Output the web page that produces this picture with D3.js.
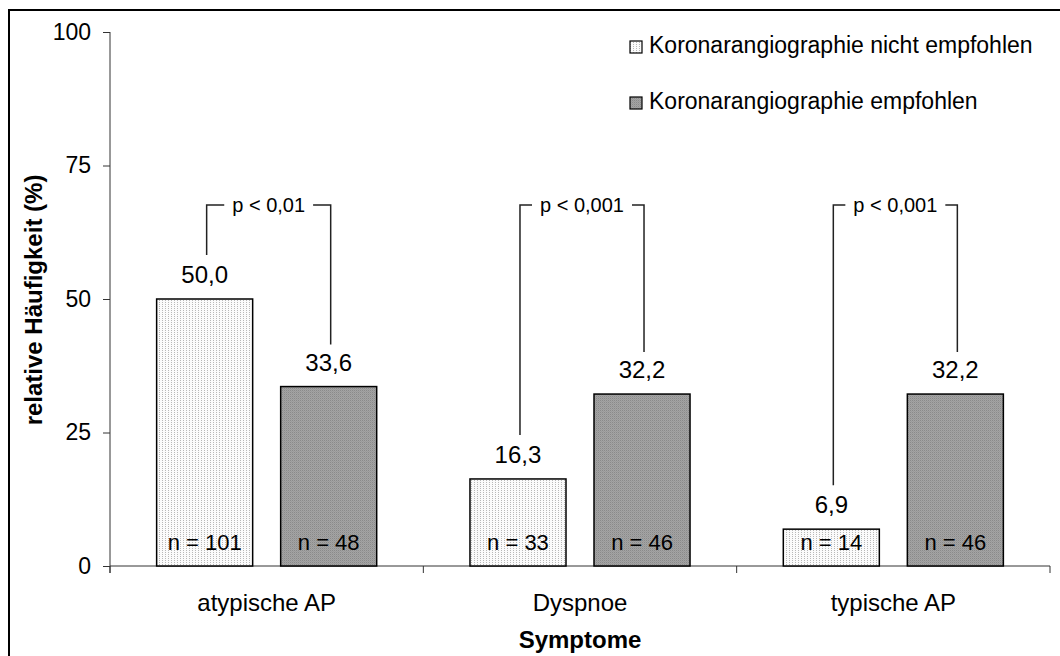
<!DOCTYPE html>
<html><head><meta charset="utf-8">
<script src="https://cdn.jsdelivr.net/npm/d3@7"></script>
<style>
html,body{margin:0;padding:0;background:#fff;overflow:hidden;}
text{font-family:"Liberation Sans",Arial,sans-serif;fill:#000;}
</style></head>
<body>
<svg id="chart" width="1060" height="656"></svg>
<script>
const categories = ["atypische AP", "Dyspnoe", "typische AP"];
const seriesNames = ["Koronarangiographie nicht empfohlen", "Koronarangiographie empfohlen"];
const valuesNicht = [50.0, 16.3, 6.9];
const valuesEmpfohlen = [33.6, 32.2, 32.2];
const nNicht = [101, 33, 14];
const nEmpfohlen = [48, 46, 46];
const pLabels = ["p < 0,01", "p < 0,001", "p < 0,001"];
const yTicks = [0, 25, 50, 75, 100];

const svg = d3.select("#chart");
const W = 1060, H = 656;
const L = 110, R = 1050, T = 32, B = 566;

// patterns
const defs = svg.append("defs");
const p1 = defs.append("pattern").attr("id","patLight").attr("patternUnits","userSpaceOnUse").attr("width",3).attr("height",2);
p1.append("rect").attr("width",3).attr("height",2).attr("fill","#fbfbfb");
p1.append("rect").attr("x",0).attr("y",0).attr("width",1).attr("height",1).attr("fill","#b8b8b8");
const p2 = defs.append("pattern").attr("id","patDark").attr("patternUnits","userSpaceOnUse").attr("width",2).attr("height",2);
p2.append("rect").attr("width",2).attr("height",2).attr("fill","#a4a4a4");
p2.append("rect").attr("x",0).attr("y",0).attr("width",1).attr("height",1).attr("fill","#8a8a8a");
p2.append("rect").attr("x",1).attr("y",1).attr("width",1).attr("height",1).attr("fill","#9a9a9a");

// outer frame
svg.append("rect").attr("x",9).attr("y",10).attr("width",1200).attr("height",800)
  .attr("fill","none").attr("stroke","#000").attr("stroke-width",2);

const x0 = d3.scaleBand().domain(categories).range([L, R]).paddingInner(0).paddingOuter(0);
const x1 = d3.scaleBand().domain([0,1]).range([0, x0.bandwidth()]).paddingInner(28/124).paddingOuter(0.376);
const y = d3.scaleLinear().domain([0,100]).range([B, T]);

// y axis
const yAxis = svg.append("g").attr("transform",`translate(${L},0)`)
  .call(d3.axisLeft(y).tickValues(yTicks).tickSize(7).tickPadding(12).tickFormat(d3.format("d")));
yAxis.select(".domain").attr("stroke","#333").attr("d",`M0,${T}V${B+7}`);
yAxis.selectAll(".tick line").attr("stroke","#333");
yAxis.selectAll(".tick text").attr("font-size",23).attr("font-family","Liberation Sans, Arial, sans-serif").attr("fill","#000");

// x axis
const boundaries = categories.map(c => x0(c)).concat([R]);
const xg = svg.append("g");
xg.append("line").attr("x1",L).attr("x2",R).attr("y1",B).attr("y2",B).attr("stroke","#333");
xg.selectAll("line.tk").data(boundaries).enter().append("line").attr("class","tk")
  .attr("x1",d=>d).attr("x2",d=>d).attr("y1",B).attr("y2",B+7).attr("stroke","#333");
xg.selectAll("text.cat").data(categories).enter().append("text").attr("class","cat")
  .attr("x",d=>x0(d)+x0.bandwidth()/2).attr("y",611).attr("text-anchor","middle")
  .attr("font-size",24).text(d=>d);

// titles
svg.append("text").attr("x",W/2 - 0).attr("y",648).attr("text-anchor","middle")
  .attr("font-size",24).attr("font-weight","bold").attr("x", x0("Dyspnoe")+x0.bandwidth()/2).text("Symptome");
svg.append("text").attr("transform","translate(42,300) rotate(-90)").attr("text-anchor","middle")
  .attr("font-size",24).attr("font-weight","bold").text("relative Häufigkeit (%)");

// bars
const series = [
  {vals: valuesNicht, ns: nNicht, fill: "url(#patLight)"},
  {vals: valuesEmpfohlen, ns: nEmpfohlen, fill: "url(#patDark)"}
];
const barsG = svg.append("g");
series.forEach((s, si) => {
  categories.forEach((c, ci) => {
    const bx = x0(c) + x1(si);
    const v = s.vals[ci];
    barsG.append("rect").attr("x", bx).attr("y", y(v)).attr("width", x1.bandwidth())
      .attr("height", y(0) - y(v)).attr("fill", s.fill).attr("stroke","#000").attr("stroke-width",1.5);
    barsG.append("text").attr("x", bx + x1.bandwidth()/2).attr("y", y(v) - 16)
      .attr("text-anchor","middle").attr("font-size",24).text(d3.format(".1f")(v).replace(".", ","));
    barsG.append("text").attr("x", bx + x1.bandwidth()/2).attr("y", y(0) - 16)
      .attr("text-anchor","middle").attr("font-size",22).text("n = " + s.ns[ci]);
  });
});

// significance brackets
const bracketTop = 205;
const brG = svg.append("g");
categories.forEach((c, ci) => {
  const xa = x0(c) + x1(0) + x1.bandwidth()/2 + 2;
  const xb = x0(c) + x1(1) + x1.bandwidth()/2 + 2;
  const ya = y(valuesNicht[ci]) - 44;
  const yb = y(valuesEmpfohlen[ci]) - 42;
  const mid = (xa + xb)/2;
  const t = brG.append("text").attr("x", mid).attr("y", bracketTop + 7).attr("text-anchor","middle")
    .attr("font-size",20).text(pLabels[ci]);
  const tw = t.node().getComputedTextLength();
  const gap = 8;
  brG.append("path").attr("fill","none").attr("stroke","#222").attr("stroke-width",1.5)
    .attr("d", `M${xa},${ya}V${bracketTop}H${mid - tw/2 - gap}`);
  brG.append("path").attr("fill","none").attr("stroke","#222").attr("stroke-width",1.5)
    .attr("d", `M${mid + tw/2 + gap},${bracketTop}H${xb}V${yb}`);
});

// legend
const legend = svg.append("g");
const legY = [47, 103];
seriesNames.forEach((name, i) => {
  legend.append("rect").attr("x",630).attr("y",legY[i]-6).attr("width",12).attr("height",12)
    .attr("fill", series[i].fill).attr("stroke","#000").attr("stroke-width",1.2);
  legend.append("text").attr("x",649).attr("y",legY[i]+5.5).attr("font-size",23).text(name);
});
</script>
</body></html>
